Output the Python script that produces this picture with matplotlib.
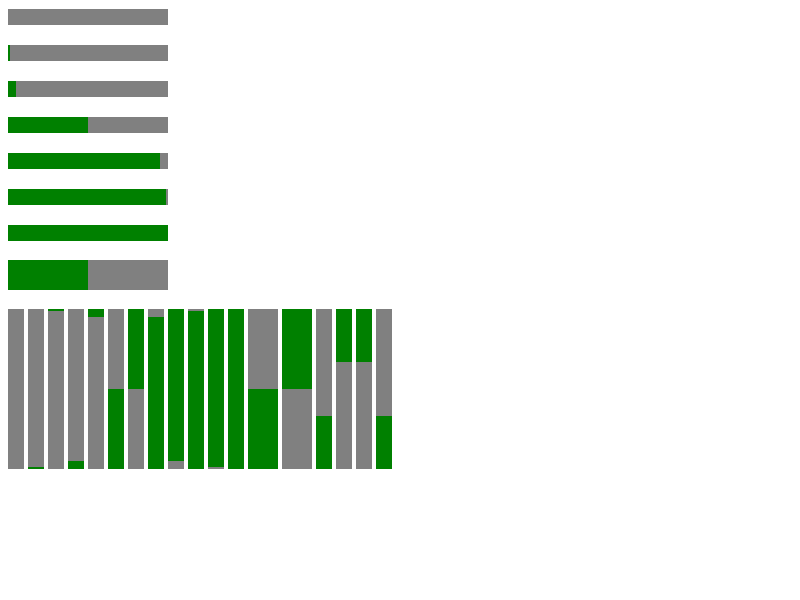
import numpy as np
from matplotlib import pyplot as plt

# progress values, horizontal bars (top block)
h_values = [0, 0.01, 0.05, 0.5, 0.95, 0.99, 1.0, 0.5]
h_thickness = [16, 16, 16, 16, 16, 16, 16, 30]

# progress values, vertical bars (bottom row); reversed = filled from the top
v_values = [0, 0.01, 0.01, 0.05, 0.05, 0.5, 0.5, 0.95, 0.95,
            0.99, 0.99, 1.0, 0.5, 0.5, 0.33, 0.33, 0.33, 0.33]
v_reversed = [False, False, True, False, True, False, True, False, True,
              False, True, False, False, True, False, True, True, False]
v_width = [16] * 12 + [30, 30] + [16] * 4

FILL = "#008000"
TRACK = "#808080"
LENGTH = 160
LEFT = 8
TOP = 9

fig = plt.figure(figsize=(8, 6), dpi=100)
ax = fig.add_axes([0, 0, 1, 1])
ax.set_xlim(0, 800)
ax.set_ylim(600, 0)
ax.axis("off")

# 1 --> horizontal progress bars, stacked downwards
y = TOP
for i, (val, th) in enumerate(zip(h_values, h_thickness)):
    if i == len(h_values) - 1:
        y -= 1
    ax.barh(y, LENGTH, height=th, left=LEFT, align="edge", color=TRACK, linewidth=0)
    ax.barh(y, val * LENGTH, height=th, left=LEFT, align="edge", color=FILL, linewidth=0)
    y += th + 20

# 2 --> vertical progress bars, side by side
y0 = y - 1
x = LEFT
for val, rev, w in zip(v_values, v_reversed, v_width):
    ax.bar(x, LENGTH, width=w, bottom=y0, align="edge", color=TRACK, linewidth=0)
    if rev:
        ax.bar(x, val * LENGTH, width=w, bottom=y0, align="edge", color=FILL, linewidth=0)
    else:
        ax.bar(x, val * LENGTH, width=w, bottom=y0 + LENGTH * (1 - val), align="edge",
               color=FILL, linewidth=0)
    x += w + 4

fig.savefig("out.png", dpi=100)
